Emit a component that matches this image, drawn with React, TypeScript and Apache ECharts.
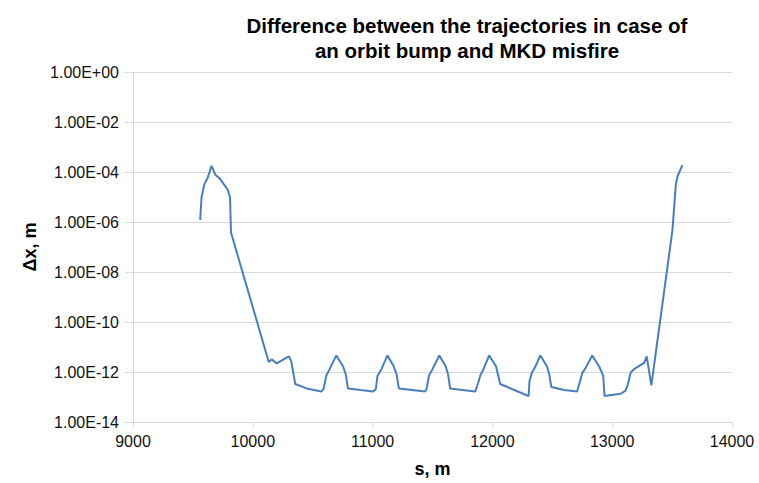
import React, { useEffect, useRef } from "react";
import * as echarts from "echarts";

const titleLines = ["Difference between the trajectories in case of", "an orbit bump and MKD misfire"];
const xName = "s, m";
const yName = "Δx, m";

const sValues = [
  9561, 9572, 9595, 9623, 9656, 9687, 9720, 9790, 9810, 9818,
  9975, 10133, 10158, 10200, 10301, 10321, 10354, 10450, 10572,
  10591, 10613, 10641, 10697, 10753, 10776, 10794, 10900, 11004,
  11027, 11041, 11074, 11124, 11176, 11200, 11219, 11330, 11437,
  11451, 11471, 11500, 11557, 11610, 11630, 11647, 11750, 11856,
  11878, 11900, 11926, 11973, 12030, 12065, 12302,
  12310, 12330, 12355, 12400, 12455, 12475, 12492, 12600, 12707,
  12729, 12750, 12780, 12833, 12890, 12912, 12925, 12936, 13070,
  13112, 13132, 13154, 13182, 13266, 13288, 13299, 13327,
  13503, 13531, 13545, 13586,
];
const dxValues = [
  1.2e-6, 9.5e-6, 3.2e-5, 5.8e-5, 1.75e-4, 7.8e-5, 5.8e-5, 2.0e-5, 9.5e-6, 3.8e-7,
  1.0e-9, 2.5e-12, 3.2e-12, 2.2e-12, 4.2e-12, 2.7e-12, 3.3e-13, 2.2e-13, 1.65e-13,
  2.1e-13, 7.0e-13, 1.3e-12, 4.6e-12, 1.7e-12, 8.0e-13, 2.2e-13, 1.9e-13, 1.65e-13,
  2.1e-13, 7.0e-13, 1.3e-12, 4.6e-12, 1.7e-12, 8.0e-13, 2.2e-13, 1.9e-13, 1.65e-13,
  2.1e-13, 7.4e-13, 1.3e-12, 4.6e-12, 1.7e-12, 8.0e-13, 2.2e-13, 1.9e-13, 1.65e-13,
  3.3e-13, 7.4e-13, 1.3e-12, 4.6e-12, 1.7e-12, 3.3e-13, 1.1e-13,
  4.5e-13, 9.5e-13, 1.5e-12, 4.6e-12, 1.7e-12, 8.0e-13, 2.5e-13, 1.9e-13, 1.65e-13,
  3.9e-13, 9.0e-13, 1.5e-12, 4.6e-12, 1.7e-12, 1.0e-12, 7.0e-13, 1.1e-13, 1.35e-13,
  1.8e-13, 3.3e-13, 9.5e-13, 1.3e-12, 2.3e-12, 4.2e-12, 2.0e-12, 2.9e-13,
  4.8e-7, 3.2e-5, 6.6e-5, 1.9e-4,
];

const xMin = 9000;
const xMax = 14000;
const xStep = 1000;
const yMin = 1e-14;
const yMax = 1;

function fmtExp(v: number): string {
  const e = Math.round(Math.log10(v));
  const m = v / Math.pow(10, e);
  const sign = e < 0 ? "-" : "+";
  const ae = Math.abs(e);
  return m.toFixed(2) + "E" + sign + (ae < 10 ? "0" + ae : String(ae));
}

const FONT = "Liberation Sans, Arial, sans-serif";

export default function App() {
  const ref = useRef<HTMLDivElement>(null);
  useEffect(() => {
    if (!ref.current) return;
    const chart = echarts.init(ref.current, undefined, { renderer: "svg" });
    const data = sValues.map((s, i) => [s, dxValues[i]]);
    chart.setOption({
      animation: false,
      backgroundColor: "#ffffff",
      textStyle: { fontFamily: FONT },
      title: {
        text: titleLines.join("\n"),
        left: 462,
        textAlign: "center",
        top: 8,
        textStyle: {
          fontSize: 20.5,
          fontWeight: "bold",
          color: "#000000",
          lineHeight: 25,
          fontFamily: FONT,
        },
      },
      grid: { left: 133, right: 27, top: 72, bottom: 54, containLabel: false },
      xAxis: {
        type: "value",
        min: xMin,
        max: xMax,
        interval: xStep,
        name: xName,
        nameLocation: "middle",
        nameGap: 38,
        nameTextStyle: { fontSize: 18, fontWeight: "bold", color: "#000", fontFamily: FONT },
        axisLine: { show: true, lineStyle: { color: "#d9d9d9", width: 1 } },
        axisTick: { show: true, length: 5, lineStyle: { color: "#d9d9d9" } },
        axisLabel: { fontSize: 16, color: "#111", margin: 11, fontFamily: FONT, formatter: (v: number) => String(v) },
        splitLine: { show: false },
      },
      yAxis: {
        type: "log",
        logBase: 10,
        min: yMin,
        max: yMax,
        interval: 2,
        name: yName,
        nameLocation: "middle",
        nameGap: 92,
        nameRotate: 90,
        nameTextStyle: { fontSize: 18, fontWeight: "bold", color: "#000", fontFamily: FONT, padding: [0, 0, 0, 0] },
        axisLine: { show: true, lineStyle: { color: "#d9d9d9", width: 1 } },
        axisTick: { show: true, length: 8, lineStyle: { color: "#d9d9d9" } },
        axisLabel: { fontSize: 16, color: "#111", margin: 14, fontFamily: FONT, formatter: (v: number) => fmtExp(v) },
        splitLine: { show: true, lineStyle: { color: "#d9d9d9", width: 1 } },
        minorTick: { show: false },
      },
      series: [
        {
          type: "line",
          data,
          showSymbol: false,
          symbol: "none",
          lineStyle: { color: "#4a7ebb", width: 2 },
          itemStyle: { color: "#4a7ebb" },
        },
      ],
    });
    return () => chart.dispose();
  }, []);
  return <div ref={ref} style={{ width: 759, height: 483, position: "absolute", left: 0, top: 0 }} />;
}
